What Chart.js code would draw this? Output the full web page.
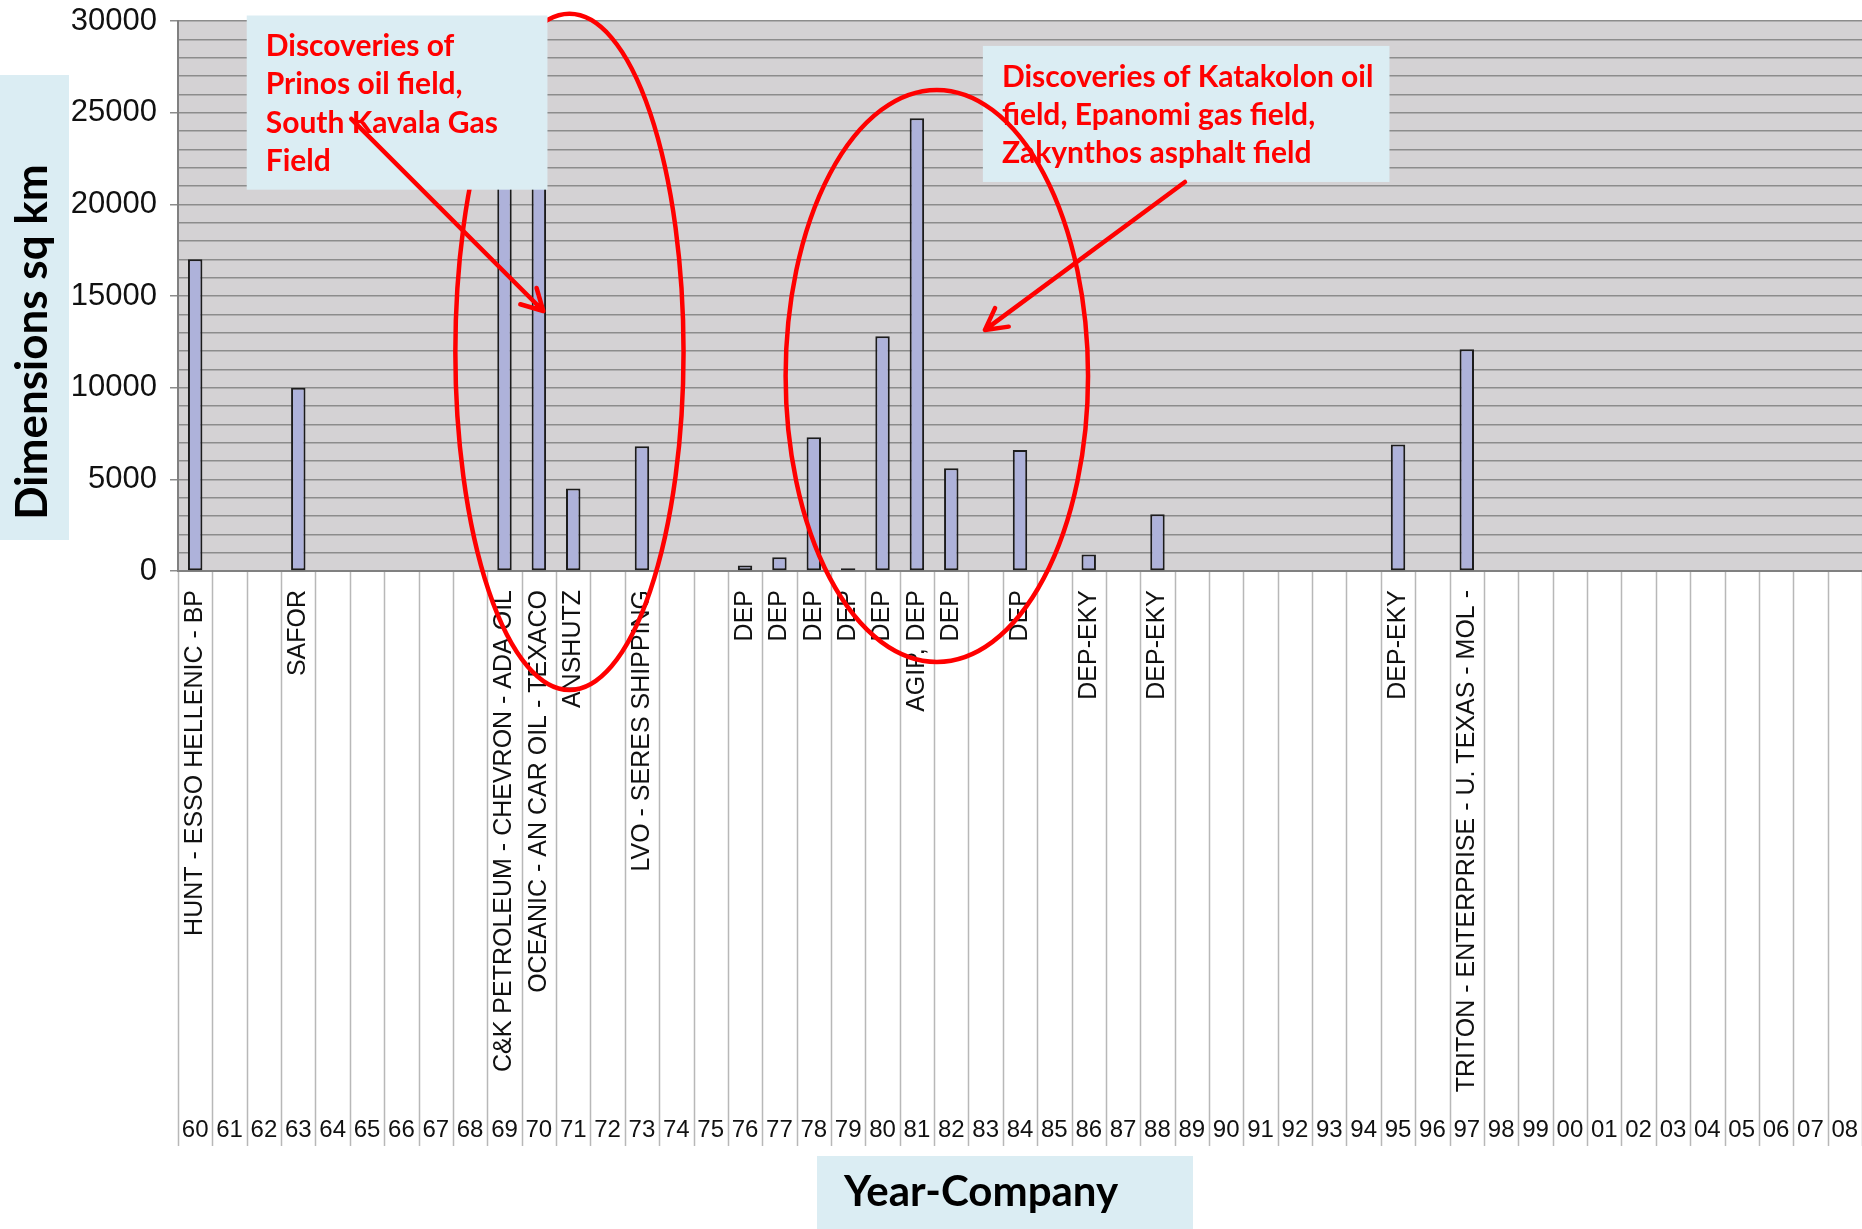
<!DOCTYPE html>
<html>
<head>
<meta charset="utf-8">
<title>Exploration licences in Greece</title>
<script src="https://cdn.jsdelivr.net/npm/chart.js@4.4.1/dist/chart.umd.min.js"></script>
<style>
  html, body { margin: 0; padding: 0; background: #fff; }
  #wrap { width: 1862px; height: 1229px; }
</style>
</head>
<body>
<div id="wrap"><canvas id="areaChart" width="1862" height="1229"></canvas></div>
<script>
// year of licence (x axis, bottom row)
const years = ['60', '61', '62', '63', '64', '65', '66', '67', '68', '69',
               '70', '71', '72', '73', '74', '75', '76', '77', '78', '79',
               '80', '81', '82', '83', '84', '85', '86', '87', '88', '89',
               '90', '91', '92', '93', '94', '95', '96', '97', '98', '99',
               '00', '01', '02', '03', '04', '05', '06', '07', '08'];

// companies holding the licence that year
const companies = ['HUNT - ESSO HELLENIC - BP', '', '', 'SAFOR', '', '', '', '', '',
                   'C&K PETROLEUM - CHEVRON - ADA OIL', 'OCEANIC - AN CAR OIL - TEXACO', 'ANSHUTZ', '',
                   'LVO - SERES SHIPPING', '', '', 'DEP', 'DEP', 'DEP', 'DEP',
                   'DEP', 'AGIP, DEP', 'DEP', '', 'DEP', '', 'DEP-EKY', '', 'DEP-EKY', '',
                   '', '', '', '', '', 'DEP-EKY', '', 'TRITON - ENTERPRISE - U. TEXAS - MOL -', '', '',
                   '', '', '', '', '', '', '', '', ''];

// licensed area, sq km (69 and 70 are hidden behind the note box)
const areas = [17000, null, null, 10000, null, null, null, null, null, 25000,
               25000, 4500, null, 6800, null, null, 300, 750, 7300, 150,
               12800, 24700, 5600, null, 6600, null, 900, null, 3100, null,
               null, null, null, null, null, 6900, null, 12100, null, null,
               null, null, null, null, null, null, null, null, null];

const yLabels = [0, 5000, 10000, 15000, 20000, 25000, 30000];

// notes drawn on top, placed in category index / sq km units
const noteBoxes = [
  { x0: 1.5, x1: 10.25, y0: 30300, y1: 20800,
    lines: ['Discoveries of', 'Prinos oil field,', 'South Kavala Gas', 'Field'] },
  { x0: 22.92, x1: 34.75, y0: 28640, y1: 21220,
    lines: ['Discoveries of Katakolon oil', 'field, Epanomi gas field,', 'Zakynthos asphalt field'] }
];
const rings = [
  { cx: 10.89, cy: 11950, rx: 3.32, ry: 18440 },
  { cx: 21.58, cy: 10640, rx: 4.40, ry: 15600 }
];
const pointers = [
  { from: [4.54, 24660], to: [10.13, 14180] },
  { from: [28.80, 21220], to: [22.98, 13150] }
];

const RED = '#ff0000';
const NOTE_BG = '#dbedf3';
const NOTE_FONT = 'bold 30px Lato, "Open Sans", sans-serif';
const SANS = '"Liberation Sans", Arial, sans-serif';

const backdrop = {
  id: 'backdrop',
  beforeDraw(chart) {
    const { ctx, chartArea: a, scales } = chart;
    ctx.save();
    ctx.fillStyle = '#d4d2d4';
    ctx.fillRect(a.left, a.top, a.right - a.left, a.bottom - a.top);

    // column separators under the plot
    const xs = scales.x;
    const step = xs.getPixelForValue(1) - xs.getPixelForValue(0);
    ctx.strokeStyle = '#b8b8b8';
    ctx.lineWidth = 1.5;
    for (let i = 0; i <= years.length; i++) {
      const px = Math.round(xs.getPixelForValue(i) - step / 2) + 0.5;
      ctx.beginPath();
      ctx.moveTo(px, a.bottom);
      ctx.lineTo(px, scales.x2.bottom);
      ctx.stroke();
    }

    // axis title boxes
    ctx.fillStyle = NOTE_BG;
    ctx.fillRect(0, 75, 69, 465);
    ctx.fillRect(817, 1156, 376, 73);
    ctx.fillStyle = '#000';
    ctx.textAlign = 'center';
    ctx.textBaseline = 'middle';
    ctx.font = 'bold 42px Lato, "Open Sans", sans-serif';
    ctx.fillText('Year-Company', 981, 1192);
    ctx.save();
    ctx.translate(33, 342);
    ctx.rotate(-Math.PI / 2);
    ctx.font = 'bold 44px Lato, "Open Sans", sans-serif';
    ctx.fillText('Dimensions sq km', 0, 0);
    ctx.restore();
    ctx.restore();
  }
};

function drawRing(ctx, xs, ys, r) {
  const cx = xs.getPixelForValue(r.cx);
  const cy = ys.getPixelForValue(r.cy);
  const rx = xs.getPixelForValue(r.cx + r.rx) - cx;
  const ry = cy - ys.getPixelForValue(r.cy + r.ry);
  ctx.beginPath();
  ctx.ellipse(cx, cy, rx, ry, 0, 0, Math.PI * 2);
  ctx.strokeStyle = RED;
  ctx.lineWidth = 4.5;
  ctx.stroke();
}

function drawNote(ctx, xs, ys, b) {
  const left = xs.getPixelForValue(b.x0);
  const right = xs.getPixelForValue(b.x1);
  const top = ys.getPixelForValue(b.y0);
  const bottom = ys.getPixelForValue(b.y1);
  ctx.fillStyle = NOTE_BG;
  ctx.fillRect(left, top, right - left, bottom - top);
  ctx.fillStyle = RED;
  ctx.font = NOTE_FONT;
  ctx.textAlign = 'left';
  ctx.textBaseline = 'middle';
  b.lines.forEach((t, i) => ctx.fillText(t, left + 19, top + 31 + i * 38.3));
}

function drawPointer(ctx, xs, ys, p) {
  const x0 = xs.getPixelForValue(p.from[0]), y0 = ys.getPixelForValue(p.from[1]);
  const x1 = xs.getPixelForValue(p.to[0]), y1 = ys.getPixelForValue(p.to[1]);
  const ang = Math.atan2(y1 - y0, x1 - x0);
  ctx.strokeStyle = RED;
  ctx.lineWidth = 4.5;
  ctx.lineCap = 'round';
  ctx.beginPath();
  ctx.moveTo(x0, y0);
  ctx.lineTo(x1, y1);
  [-0.5, 0.5].forEach(d => {
    ctx.moveTo(x1, y1);
    ctx.lineTo(x1 - 24 * Math.cos(ang + d), y1 - 24 * Math.sin(ang + d));
  });
  ctx.stroke();
}

const notes = {
  id: 'notes',
  afterDraw(chart) {
    const { ctx, scales } = chart;
    const xs = scales.x, ys = scales.y;
    ctx.save();
    drawRing(ctx, xs, ys, rings[0]);
    drawNote(ctx, xs, ys, noteBoxes[0]);
    drawNote(ctx, xs, ys, noteBoxes[1]);
    drawRing(ctx, xs, ys, rings[1]);
    pointers.forEach(p => drawPointer(ctx, xs, ys, p));
    ctx.restore();
  }
};

const ctx = document.getElementById('areaChart').getContext('2d');
const areaChart = new Chart(ctx, {
  type: 'bar',
  data: {
    labels: companies,
    datasets: [{
      label: 'Dimensions sq km',
      data: areas,
      backgroundColor: '#aeb2da',
      borderColor: '#1c1c1c',
      borderWidth: 2,
      borderSkipped: false,
      barPercentage: 0.42,
      categoryPercentage: 1
    }]
  },
  options: {
    responsive: false,
    animation: false,
    devicePixelRatio: 1,
    layout: { padding: { top: 21, bottom: 83, left: 0, right: 0 } },
    plugins: { legend: { display: false }, tooltip: { enabled: false } },
    scales: {
      x: {
        position: 'bottom',
        offset: true,
        grid: { display: false, drawTicks: false },
        border: { display: true, color: '#808080', width: 2 },
        ticks: {
          autoSkip: false, minRotation: 90, maxRotation: 90, padding: 19, color: '#111',
          font: { family: SANS, size: 25 }
        },
        afterFit: s => { s.height = 535; s.paddingLeft = 0; s.paddingRight = 0; }
      },
      x2: {
        type: 'category',
        labels: years,
        position: 'bottom',
        offset: true,
        grid: { display: false, drawTicks: false },
        border: { display: false },
        ticks: {
          autoSkip: false, maxRotation: 0, minRotation: 0, padding: 10, color: '#111',
          font: { family: SANS, size: 24 }
        },
        afterFit: s => { s.height = 40; s.paddingLeft = 0; s.paddingRight = 0; }
      },
      y: {
        min: 0,
        max: 30000,
        grid: {
          color: '#8c8c8c',
          lineWidth: 1.5,
          tickLength: 8,
          tickColor: c => yLabels.includes(c.tick.value) ? '#8c8c8c' : 'rgba(0,0,0,0)'
        },
        border: { display: true, color: '#808080', width: 2 },
        ticks: {
          stepSize: 1000,
          autoSkip: false,
          padding: 13,
          color: '#111',
          font: { family: SANS, size: 31 },
          callback: v => yLabels.includes(v) ? String(v) : ''
        },
        afterFit: s => { s.width = 178; s.paddingTop = 0; s.paddingBottom = 0; }
      }
    }
  },
  plugins: [backdrop, notes]
});
</script>
</body>
</html>
